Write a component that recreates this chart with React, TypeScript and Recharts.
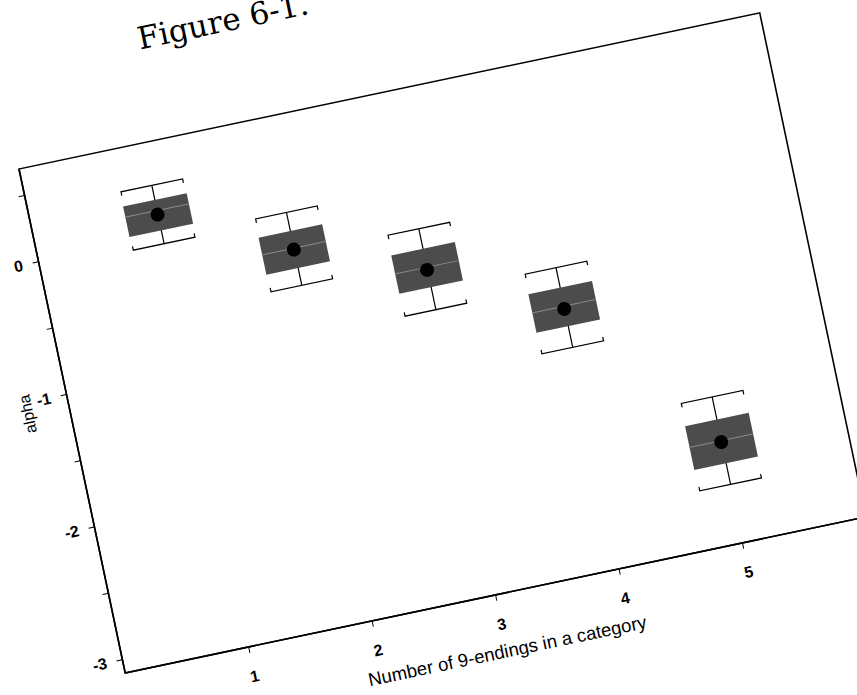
import React from 'react';
import { ComposedChart, Bar, Scatter, XAxis, YAxis, ReferenceArea } from 'recharts';

// values
const categories = [1, 2, 3, 4, 5];
const whiskerHigh = [0.38, -0.02, -0.34, -0.83, -2.0];
const boxHigh = [0.27, -0.16, -0.49, -0.98, -2.17];
const medians = [0.19, -0.29, -0.63, -1.12, -2.33];
const means = [0.16, -0.3, -0.65, -1.14, -2.34];
const boxLow = [0.04, -0.44, -0.78, -1.27, -2.5];
const whiskerLow = [-0.06, -0.57, -0.95, -1.43, -2.66];

const xTicks = [1, 2, 3, 4, 5];
const yTicks = [-3, -2.5, -2, -1.5, -1, -0.5, 0, 0.5];

const data = categories.map((x, i) => ({
  x,
  box: [boxLow[i], boxHigh[i]],
  whisker: [whiskerLow[i], whiskerHigh[i]],
  median: medians[i],
  mean: means[i],
}));

const BOX_W = 65;
const CAP_W = 63;
const FONT = 'Liberation Sans, Arial, sans-serif';

const WhiskerShape = (props: any) => {
  const { x, y, width, height } = props;
  const cx = x + width / 2;
  const top = Math.min(y, y + height);
  const bot = Math.max(y, y + height);
  const hw = width / 2;
  const t = 4;
  return (
    <g stroke="#000" strokeWidth={1.2} fill="none">
      <line x1={cx} y1={top} x2={cx} y2={bot} />
      <polyline points={`${cx - hw},${top + t} ${cx - hw},${top} ${cx + hw},${top} ${cx + hw},${top + t}`} />
      <polyline points={`${cx - hw},${bot - t} ${cx - hw},${bot} ${cx + hw},${bot} ${cx + hw},${bot - t}`} />
    </g>
  );
};

const MedianShape = (props: any) => (
  <line x1={props.cx - BOX_W / 2} y1={props.cy} x2={props.cx + BOX_W / 2} y2={props.cy} stroke="#8a8a8a" strokeWidth={1} />
);

const MeanShape = (props: any) => <circle cx={props.cx} cy={props.cy} r={7} fill="#000" />;

const AlphaLabel = (props: any) => {
  const vb = props.viewBox;
  const x = vb.x + 8;
  const y = vb.y + vb.height / 2 - 16;
  return (
    <text x={x} y={y} transform={`rotate(-90, ${x}, ${y})`} textAnchor="middle" dominantBaseline="central"
      fontSize={16} fontFamily={FONT} fill="#000">
      alpha
    </text>
  );
};

const XLabel = (props: any) => {
  const vb = props.viewBox;
  return (
    <text x={vb.x + vb.width / 2} y={vb.y + 57} textAnchor="middle" dominantBaseline="central"
      fontSize={18.5} fontFamily={FONT} fill="#000">
      Number of 9-endings in a category
    </text>
  );
};

export default function App() {
  return (
    <div style={{ position: 'fixed', left: 0, top: 0, width: 857, height: 695, overflow: 'hidden', background: '#fff' }}>
      <div
        style={{
          position: 'absolute',
          left: -51,
          top: 149,
          width: 847,
          height: 615,
          transformOrigin: '70px 20px',
          transform: 'rotate(-11.9deg)',
        }}
      >
        <div
          style={{
            position: 'absolute',
            left: 213,
            top: -98,
            fontFamily: 'DejaVu Serif',
            fontSize: 31,
            lineHeight: 1,
            whiteSpace: 'nowrap',
            color: '#000',
          }}
        >
          Figure 6-1.
        </div>
        <ComposedChart width={847} height={615} data={data} margin={{ top: 20, right: 20, left: 20, bottom: 10 }}>
          <XAxis
            dataKey="x"
            type="number"
            domain={[0, 6]}
            ticks={xTicks}
            allowDataOverflow
            height={70}
            axisLine={{ stroke: '#000', strokeWidth: 1.6 }}
            tickLine={{ stroke: '#000' }}
            tickSize={6}
            tickMargin={18}
            tick={{ fill: '#000', fontSize: 16, fontWeight: 'bold', fontFamily: FONT }}
            label={XLabel}
          />
          <XAxis xAxisId="w" dataKey="x" type="number" domain={[0, 6]} ticks={xTicks} allowDataOverflow hide />
          <YAxis
            type="number"
            domain={[-3.1, 0.7]}
            ticks={yTicks}
            allowDataOverflow
            width={50}
            axisLine={{ stroke: '#000', strokeWidth: 1.6 }}
            tickLine={{ stroke: '#000' }}
            tickSize={6}
            tickMargin={10}
            tickFormatter={(v: number) => (Number.isInteger(v) ? String(v) : '')}
            tick={{ fill: '#000', fontSize: 16, fontWeight: 'bold', fontFamily: FONT }}
            label={AlphaLabel}
          />
          <ReferenceArea x1={0} x2={6} y1={-3.1} y2={0.7} fill="none" stroke="#000" strokeWidth={1.6} />
          <Bar xAxisId="w" dataKey="whisker" barSize={CAP_W} shape={WhiskerShape} isAnimationActive={false} />
          <Bar dataKey="box" barSize={BOX_W} fill="#4c4c4c" isAnimationActive={false} />
          <Scatter dataKey="median" shape={MedianShape} isAnimationActive={false} />
          <Scatter dataKey="mean" shape={MeanShape} isAnimationActive={false} />
        </ComposedChart>
      </div>
    </div>
  );
}
